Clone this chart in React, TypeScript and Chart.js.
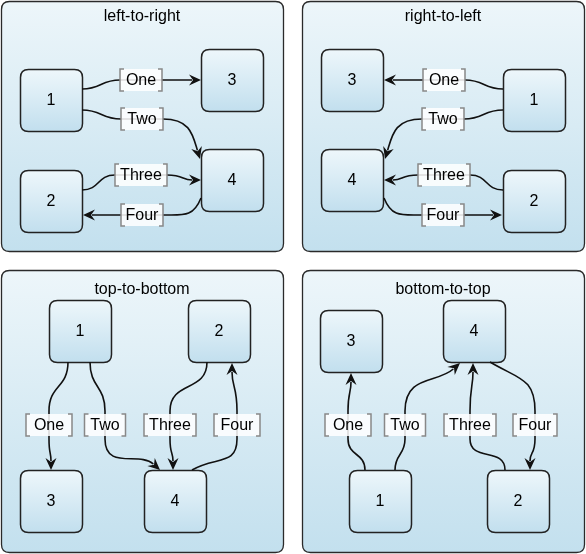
import React, { useEffect, useRef } from "react";
import { Chart, registerables } from "chart.js";
Chart.register(...registerables);

// panels: [x1, y1, x2, y2, title]
const panelTitles = ["left-to-right", "right-to-left", "top-to-bottom", "bottom-to-top"];
const panelBoxes = [[1, 1, 283, 251], [302, 1, 584, 251], [1, 270, 283, 552], [302, 270, 584, 552]];
const titleY = [17, 17, 290, 290];

// nodes: [x1, y1, x2, y2], label
const nodeLabels = ["1", "3", "4", "2", "3", "1", "4", "2", "1", "2", "3", "4", "3", "4", "1", "2"];
const nodeBoxes = [
  [20, 69, 82, 131], [201, 49, 263, 111], [201, 149, 263, 211], [20, 170, 82, 232],
  [321, 49, 383, 111], [503, 69, 565, 131], [321, 149, 383, 211], [503, 170, 565, 232],
  [49, 300, 111, 362], [188, 300, 250, 362], [20, 470, 82, 532], [144, 470, 206, 532],
  [320, 310, 382, 372], [443, 300, 505, 362], [349, 470, 411, 532], [487, 470, 549, 532],
];

// edges: start point, start dir, label centre, label width, end point, end dir, vertical?
const edgeLabels = ["One", "Two", "Three", "Four", "One", "Two", "Three", "Four", "One", "Two", "Three", "Four", "One", "Two", "Three", "Four"];
const edgeStart = [[82, 89], [82, 110], [82, 190], [201, 198], [503, 89], [503, 110], [503, 190], [384, 198],
  [68, 362], [90, 362], [207, 362], [192, 470], [365, 470], [395, 470], [505, 470], [490, 362]];
const edgeStartDir = [[1, 0], [1, 0], [1, 0], [-0.4, 1], [-1, 0], [-1, 0], [-1, 0], [0.4, 1],
  [0, 1], [0, 1], [0, 1], [1, -0.6], [0, -1], [0, -1], [0, -1], [1, 0.6]];
const edgeLabelPos = [[141, 80], [142, 119], [141, 175], [142, 215], [444, 80], [443, 119], [444, 175], [443, 215],
  [49, 425], [105, 425], [170, 425], [237, 425], [348, 425], [405, 425], [470, 425], [535, 425]];
const edgeLabelW = [42, 42, 52, 42, 42, 42, 52, 42, 46, 41, 52, 46, 46, 41, 52, 44];
const edgeEnd = [[201, 80], [200, 159], [201, 180], [83, 215], [384, 80], [385, 159], [384, 180], [502, 215],
  [51, 470], [160, 470], [173, 470], [232, 363], [351, 373], [460, 363], [473, 363], [530, 470]];
const edgeEndDir = [[1, 0], [0.3, 1], [1, 0], [-1, 0], [-1, 0], [-0.3, 1], [-1, 0], [1, 0],
  [0, 1], [1, 0.9], [0, 1], [0, -1], [0, -1], [1, -0.9], [0, -1], [0, 1]];
const edgeVertical = [false, false, false, false, false, false, false, false, true, true, true, true, true, true, true, true];

const FONT = '"Liberation Sans", Arial, sans-serif';

function rr(ctx: CanvasRenderingContext2D, x: number, y: number, w: number, h: number, r: number) {
  ctx.beginPath();
  ctx.moveTo(x + r, y);
  ctx.lineTo(x + w - r, y);
  ctx.quadraticCurveTo(x + w, y, x + w, y + r);
  ctx.lineTo(x + w, y + h - r);
  ctx.quadraticCurveTo(x + w, y + h, x + w - r, y + h);
  ctx.lineTo(x + r, y + h);
  ctx.quadraticCurveTo(x, y + h, x, y + h - r);
  ctx.lineTo(x, y + r);
  ctx.quadraticCurveTo(x, y, x + r, y);
  ctx.closePath();
}

function norm(d: number[]) {
  const l = Math.hypot(d[0], d[1]) || 1;
  return [d[0] / l, d[1] / l];
}

const diagramPlugin = {
  id: "diagram",
  afterDraw(chart: any) {
    const ctx: CanvasRenderingContext2D = chart.ctx;
    const sx = chart.scales.x, sy = chart.scales.y;
    const X = (v: number) => sx.getPixelForValue(v);
    const Y = (v: number) => sy.getPixelForValue(v);
    ctx.save();
    panelBoxes.forEach((b, i) => {
      const x1 = X(b[0]), y1 = Y(b[1]), x2 = X(b[2]), y2 = Y(b[3]);
      const g = ctx.createLinearGradient(0, y1, 0, y2);
      g.addColorStop(0, "#edf6fa");
      g.addColorStop(1, "#c3e0ee");
      rr(ctx, x1 + 0.5, y1 + 0.5, x2 - x1, y2 - y1, 8);
      ctx.fillStyle = g;
      ctx.fill();
      ctx.lineWidth = 1.3;
      ctx.strokeStyle = "#2a2a2a";
      ctx.stroke();
      ctx.fillStyle = "#000";
      ctx.font = `16px ${FONT}`;
      ctx.textAlign = "center";
      ctx.textBaseline = "middle";
      ctx.fillText(panelTitles[i], (x1 + x2) / 2, Y(titleY[i]));
    });
    nodeBoxes.forEach((b, i) => {
      const x1 = X(b[0]), y1 = Y(b[1]), x2 = X(b[2]), y2 = Y(b[3]);
      const g = ctx.createLinearGradient(0, y1, 0, y2);
      g.addColorStop(0, "#eef7fb");
      g.addColorStop(1, "#c2dfee");
      rr(ctx, x1 + 0.5, y1 + 0.5, x2 - x1, y2 - y1, 8);
      ctx.fillStyle = g;
      ctx.fill();
      ctx.lineWidth = 1.5;
      ctx.strokeStyle = "#222";
      ctx.stroke();
      ctx.fillStyle = "#000";
      ctx.font = `16px ${FONT}`;
      ctx.textAlign = "center";
      ctx.textBaseline = "middle";
      ctx.fillText(nodeLabels[i], (x1 + x2) / 2, (y1 + y2) / 2 + 1);
    });
    edgeLabels.forEach((lab, i) => {
      const vert = edgeVertical[i];
      const s = [X(edgeStart[i][0]), Y(edgeStart[i][1])];
      const e = [X(edgeEnd[i][0]), Y(edgeEnd[i][1])];
      const lc = [X(edgeLabelPos[i][0]), Y(edgeLabelPos[i][1])];
      const half = vert ? 14 : (edgeLabelW[i] / 2);
      const forward = vert ? Math.sign(e[1] - s[1]) : Math.sign(e[0] - s[0]);
      const ld = vert ? [0, forward] : [forward, 0];
      const lin = vert ? [lc[0], lc[1] - forward * half] : [lc[0] - forward * half, lc[1]];
      const lout = vert ? [lc[0], lc[1] + forward * half] : [lc[0] + forward * half, lc[1]];
      const d0 = norm(edgeStartDir[i]);
      const d1 = norm(edgeEndDir[i]);
      const k0 = Math.hypot(lin[0] - s[0], lin[1] - s[1]) * 0.5;
      const k1 = Math.hypot(e[0] - lout[0], e[1] - lout[1]) * 0.5;
      const tip = [e[0], e[1]];
      const base = [e[0] - d1[0] * 9, e[1] - d1[1] * 9];
      ctx.beginPath();
      ctx.moveTo(s[0], s[1]);
      ctx.bezierCurveTo(s[0] + d0[0] * k0, s[1] + d0[1] * k0, lin[0] - ld[0] * k0, lin[1] - ld[1] * k0, lin[0], lin[1]);
      ctx.lineTo(lout[0], lout[1]);
      ctx.bezierCurveTo(lout[0] + ld[0] * k1, lout[1] + ld[1] * k1, base[0] - d1[0] * k1 * 0.6, base[1] - d1[1] * k1 * 0.6, base[0], base[1]);
      ctx.strokeStyle = "#111";
      ctx.lineWidth = 1.6;
      ctx.stroke();
      const px = -d1[1], py = d1[0];
      ctx.beginPath();
      ctx.moveTo(tip[0], tip[1]);
      ctx.lineTo(tip[0] - d1[0] * 12 + px * 5.5, tip[1] - d1[1] * 12 + py * 5.5);
      ctx.lineTo(tip[0] - d1[0] * 8, tip[1] - d1[1] * 8);
      ctx.lineTo(tip[0] - d1[0] * 12 - px * 5.5, tip[1] - d1[1] * 12 - py * 5.5);
      ctx.closePath();
      ctx.fillStyle = "#111";
      ctx.fill();
      ctx.font = `16px ${FONT}`;
      const w = edgeLabelW[i], h = 22;
      const bx = lc[0] - w / 2, by = lc[1] - h / 2;
      ctx.fillStyle = "rgba(255,255,255,0.85)";
      ctx.fillRect(bx, by, w, h);
      ctx.strokeStyle = "#888";
      ctx.lineWidth = 1.5;
      ctx.beginPath();
      ctx.moveTo(bx + 4, by); ctx.lineTo(bx, by); ctx.lineTo(bx, by + h); ctx.lineTo(bx + 4, by + h);
      ctx.moveTo(bx + w - 4, by); ctx.lineTo(bx + w, by); ctx.lineTo(bx + w, by + h); ctx.lineTo(bx + w - 4, by + h);
      ctx.stroke();
      ctx.fillStyle = "#000";
      ctx.textAlign = "center";
      ctx.textBaseline = "middle";
      ctx.fillText(lab, lc[0], lc[1] + 1);
    });
    ctx.restore();
  },
};

export default function App() {
  const ref = useRef<HTMLCanvasElement>(null);
  useEffect(() => {
    document.body.style.margin = "0";
    const chart = new Chart(ref.current!, {
      type: "scatter",
      data: { datasets: [{ data: [], pointRadius: 0 }] },
      options: {
        animation: false,
        responsive: false,
        layout: { padding: 0 },
        plugins: { legend: { display: false }, tooltip: { enabled: false } },
        scales: {
          x: { type: "linear", min: 0, max: 586, display: false },
          y: { type: "linear", min: 0, max: 554, reverse: true, display: false },
        },
      },
      plugins: [diagramPlugin],
    });
    return () => chart.destroy();
  }, []);
  return (
    <div style={{ width: 586, height: 554, background: "#fff" }}>
      <canvas ref={ref} width={586} height={554} style={{ display: "block" }} />
    </div>
  );
}
